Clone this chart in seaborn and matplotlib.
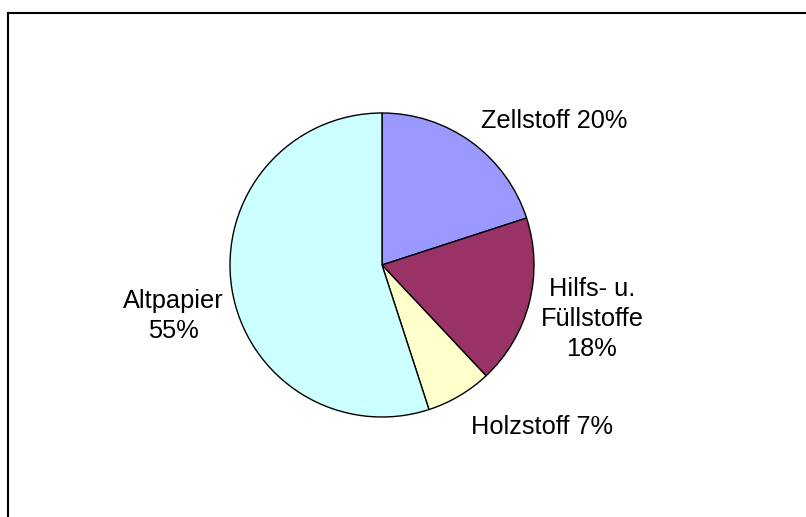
"""Pie chart: Rohstoffe der Papierherstellung."""
import matplotlib
matplotlib.use("Agg")
import matplotlib.pyplot as plt
from matplotlib.patches import Rectangle
import seaborn as sns

categories = ["Zellstoff", "Hilfs- u. Füllstoffe", "Holzstoff", "Altpapier"]
shares = [20, 18, 7, 55]
label_texts = ["Zellstoff 20%", "Hilfs- u.\nFüllstoffe\n18%", "Holzstoff 7%", "Altpapier\n55%"]
colors = ["#9999FF", "#993366", "#FFFFCC", "#CCFFFF"]

sns.set_theme(style="white")
plt.rcParams["font.family"] = ["Liberation Sans", "DejaVu Sans"]

W, H = 806, 517
R = 152.0            # pie radius in px
CX, CY = 382.0, 265.0  # pie centre in px (from top-left)

fig = plt.figure(figsize=(W / 100, H / 100), dpi=100)
ax = fig.add_axes([0, 0, 1, 1])

wedges, texts = ax.pie(
    shares,
    labels=label_texts,
    colors=colors,
    startangle=90,
    counterclock=False,
    wedgeprops=dict(edgecolor="black", linewidth=1.0),
    textprops=dict(fontsize=18.3, color="black"),
)

# label placement (px from top-left) and alignment, as in the original
label_pos = [(481, 120.5, "left"), (592, 319, "center"), (471, 426.5, "left"), (173, 316, "center")]
for t, (px, py, ha) in zip(texts, label_pos):
    t.set_position(((px - CX) / R, (CY - py) / R))
    t.set_horizontalalignment(ha)
    t.set_verticalalignment("center")
    t.set_multialignment("center")
    t.set_linespacing(1.33)

ax.set_xlim(-CX / R, (W - CX) / R)
ax.set_ylim((CY - H) / R, CY / R)
ax.set_aspect("equal")
ax.axis("off")

# chart-area frame (only top and left edges fall inside the image)
fig.add_artist(Rectangle((8 / W, -0.1), 1.2, 1.1 - 13 / H, transform=fig.transFigure,
                         fill=False, edgecolor="black", linewidth=1.5))

fig.savefig("out.png", dpi=100, facecolor="white")
